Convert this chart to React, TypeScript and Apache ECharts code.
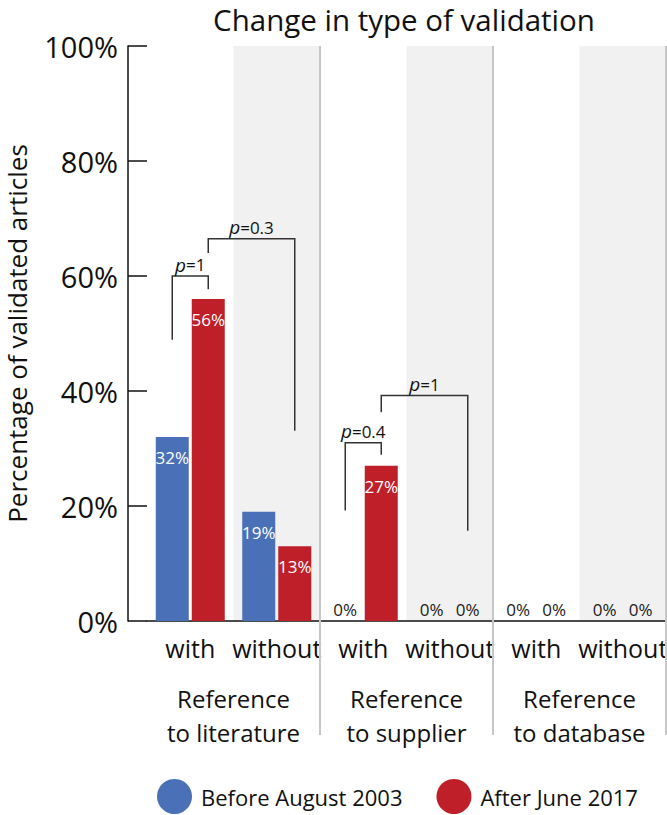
import React, { useEffect, useRef } from "react";
import * as echarts from "echarts";

// ---- data ----
const subCategories = ["with", "without", "with", "without", "with", "without"];
const groupCategories = ["Reference\nto literature", "Reference\nto supplier", "Reference\nto database"];
const seriesNames = ["Before August 2003", "After June 2017"];
const beforeValues = [32, 19, 0, 0, 0, 0];
const afterValues = [56, 13, 27, 0, 0, 0];
const yTickStep = 20;
const yMax = 100;

// significance brackets
const bracketLabels = ["1", "0.3", "0.4", "1"];
// [left category, left series, right category, right series]
const bracketEnds = [
  [0, 0, 0, 1],
  [0, 1, 1, 1],
  [2, 0, 2, 1],
  [2, 1, 3, 1],
];
// [left foot %, top %, right foot %]
const bracketLevels = [
  [48.9, 60, 57.7],
  [64, 66.5, 33.1],
  [19.2, 31, 28.9],
  [36.3, 39.2, 15.7],
];

const FONT = "'Open Sans', sans-serif";
const BLUE = "#4a71b8";
const RED = "#bf1f29";
const BAR_W = 33;
const BAR_GAP_PX = 3;

function barData(values: number[]) {
  return values.map((v) =>
    v === 0
      ? { value: v, label: { position: "top", color: "#1a1a1a", distance: 3 } }
      : { value: v }
  );
}

export default function App() {
  const ref = useRef<HTMLDivElement>(null);

  useEffect(() => {
    if (!ref.current) return;
    const chart = echarts.init(ref.current, undefined, { renderer: "svg" });
    const barLabel = {
      show: true,
      position: "insideTop",
      distance: 12,
      color: "#ffffff",
      fontSize: 17,
      fontFamily: FONT,
      formatter: "{c}%",
    };
    chart.setOption({
      animation: false,
      backgroundColor: "#ffffff",
      title: {
        text: "Change in type of validation",
        left: 404,
        top: 4,
        textAlign: "center",
        padding: 0,
        textStyle: { fontFamily: FONT, fontSize: 29.5, fontWeight: "normal", color: "#111" },
      },
      legend: {
        data: seriesNames,
        left: 157,
        top: 779,
        padding: 0,
        icon: "circle",
        itemWidth: 35,
        itemHeight: 35,
        itemGap: 34,
        textStyle: { fontFamily: FONT, fontSize: 22, color: "#111", padding: [0, 0, 0, 4] },
      },
      grid: {
        left: 147,
        right: 1,
        top: 46,
        bottom: 194,
        containLabel: false,
        outerBoundsMode: "none",
      },
      xAxis: [
        {
          type: "category",
          data: subCategories,
          axisLine: { show: true, lineStyle: { color: "#111", width: 1.5 } },
          axisTick: { show: false },
          axisLabel: { interval: 0, fontFamily: FONT, fontSize: 25, color: "#111", margin: 14 },
          splitArea: {
            show: true,
            interval: 0,
            areaStyle: { color: ["rgba(255,255,255,0)", "#f1f1f1"] },
          },
          splitLine: { show: false },
        },
        {
          type: "category",
          data: groupCategories,
          position: "bottom",
          offset: 60,
          axisLine: { show: false },
          axisTick: { show: false },
          axisLabel: { interval: 0, fontFamily: FONT, fontSize: 24, lineHeight: 34, color: "#111", margin: 0 },
          splitLine: { show: false },
        },
      ],
      yAxis: {
        type: "value",
        min: 0,
        max: yMax,
        interval: yTickStep,
        offset: 19,
        name: "Percentage of validated articles",
        nameLocation: "middle",
        nameGap: 98,
        nameTextStyle: { fontFamily: FONT, fontSize: 26, color: "#111" },
        axisLine: { show: true, lineStyle: { color: "#111", width: 1.5 } },
        axisTick: { show: true, inside: true, length: 19, lineStyle: { color: "#111", width: 1.5 } },
        axisLabel: { formatter: "{value}%", fontFamily: FONT, fontSize: 29, color: "#111", margin: 10 },
        splitLine: { show: false },
      },
      series: [
        {
          name: seriesNames[0],
          type: "bar",
          xAxisIndex: 0,
          data: barData(beforeValues),
          itemStyle: { color: BLUE },
          barWidth: BAR_W,
          barGap: `${(BAR_GAP_PX / BAR_W) * 100}%`,
          label: barLabel,
        },
        {
          name: seriesNames[1],
          type: "bar",
          xAxisIndex: 0,
          data: barData(afterValues),
          itemStyle: { color: RED },
          barWidth: BAR_W,
          barGap: `${(BAR_GAP_PX / BAR_W) * 100}%`,
          label: barLabel,
        },
      ],
    });

    // decorations computed from the library's scales
    const px = (cat: number, val: number) =>
      chart.convertToPixel({ xAxisIndex: 0, yAxisIndex: 0 }, [cat, val]) as number[];
    const half = (px(1, 0)[0] - px(0, 0)[0]) / 2;
    const offset = (BAR_W + BAR_GAP_PX) / 2;
    const barX = (cat: number, s: number) => px(cat, 0)[0] + (s === 0 ? -offset : offset);
    const topY = px(0, yMax)[1];
    const sepBottom = 735;

    const graphics: any[] = [];
    [1, 3, 5].forEach((cat) => {
      const x = Math.round(px(cat, 0)[0] + half);
      graphics.push({
        type: "line",
        shape: { x1: x, y1: topY, x2: x, y2: sepBottom },
        style: { stroke: "#c6c6c6", lineWidth: 2 },
        z: 1,
      });
    });

    bracketEnds.forEach((e, i) => {
      const [lc, ls, rc, rs] = e;
      const [lf, tp, rf] = bracketLevels[i];
      const x1 = barX(lc, ls);
      const x2 = barX(rc, rs);
      const yT = px(0, tp)[1];
      graphics.push({
        type: "polyline",
        shape: {
          points: [
            [x1, px(0, lf)[1]],
            [x1, yT],
            [x2, yT],
            [x2, px(0, rf)[1]],
          ],
        },
        style: { stroke: "#333", lineWidth: 1.5, fill: null },
        z: 10,
      });
      graphics.push({
        type: "text",
        x: (x1 + x2) / 2,
        y: yT - 2,
        style: {
          text: `{i|p}=${bracketLabels[i]}`,
          rich: {
            i: { fontStyle: "italic", fontSize: 19, fontFamily: FONT, fill: "#111" },
          },
          font: `17px ${FONT}`,
          fill: "#111",
          align: "center",
          verticalAlign: "bottom",
        },
        z: 10,
      });
    });

    chart.setOption({ graphic: graphics });

    return () => chart.dispose();
  }, []);

  return (
    <div
      ref={ref}
      style={{ position: "fixed", left: 0, top: 0, width: 667, height: 815 }}
    />
  );
}
